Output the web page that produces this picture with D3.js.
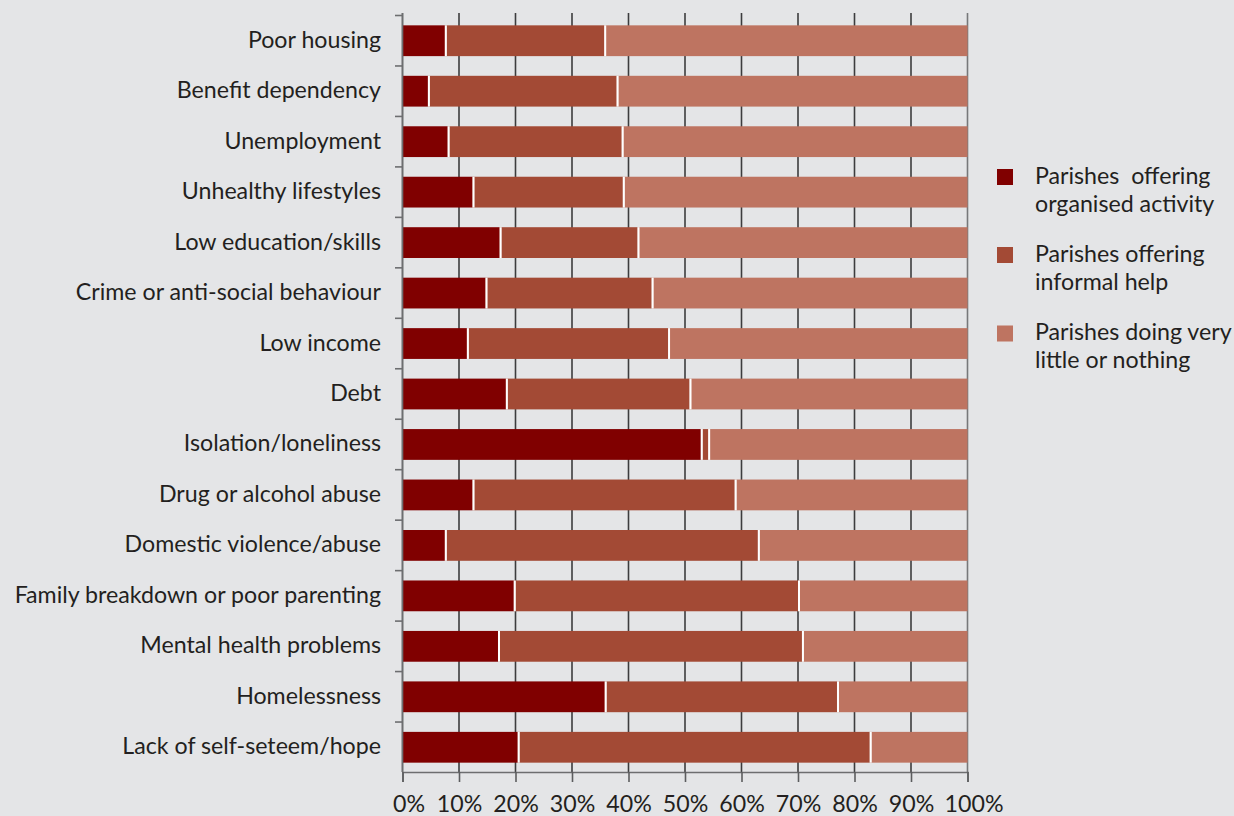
<!DOCTYPE html>
<html>
<head>
<meta charset="utf-8">
<script src="https://cdn.jsdelivr.net/npm/d3@7"></script>
<style>
  html, body { margin: 0; padding: 0; background: #e4e5e7; }
  svg { display: block; }
</style>
</head>
<body>
<svg id="chart" width="1234" height="816"></svg>
<script>
// Problems in the parish area and how parishes respond (percent of parishes)
const categories = [
  "Poor housing",
  "Benefit dependency",
  "Unemployment",
  "Unhealthy lifestyles",
  "Low education/skills",
  "Crime or anti-social behaviour",
  "Low income",
  "Debt",
  "Isolation/loneliness",
  "Drug or alcohol abuse",
  "Domestic violence/abuse",
  "Family breakdown or poor parenting",
  "Mental health problems",
  "Homelessness",
  "Lack of self-seteem/hope"
];
const organised = [7.5, 4.5, 8.0, 12.4, 17.2, 14.7, 11.4, 18.3, 52.8, 12.4, 7.5, 19.7, 16.9, 35.8, 20.4];
const informal  = [28.2, 33.4, 30.8, 26.6, 24.4, 29.4, 35.6, 32.5, 1.3, 46.4, 55.4, 50.3, 53.8, 41.1, 62.3];
const little    = [64.3, 62.1, 61.2, 61.0, 58.4, 55.9, 53.0, 49.2, 45.9, 41.2, 37.1, 30.0, 29.3, 23.1, 17.3];

const seriesNames = [
  ["Parishes  offering", "organised activity"],
  ["Parishes offering", "informal help"],
  ["Parishes doing very", "little or nothing"]
];
const seriesKeys = ["organised", "informal", "little"];
const colors = ["#800000", "#a34a35", "#be7461"];
const tickValues = [0, 10, 20, 30, 40, 50, 60, 70, 80, 90, 100];

const rows = categories.map((c, i) => ({
  category: c, organised: organised[i], informal: informal[i], little: little[i]
}));

const svg = d3.select("#chart");
const font = "Lato, 'Open Sans', sans-serif";
const fontSize = 23.2;
const textColor = "#231f20";

const x = d3.scaleLinear().domain([0, 100]).range([402.5, 967.5]);
const y = d3.scaleBand().domain(categories).range([15.5, 772.5])
  .paddingInner(0.39).paddingOuter(0.195);

// vertical grid lines behind the bars
svg.append("g").selectAll("line").data(tickValues).join("line")
  .attr("x1", d => x(d)).attr("x2", d => x(d))
  .attr("y1", 13).attr("y2", 772)
  .attr("stroke", d => d === 0 ? "#6d6e70" : (d === 100 ? "#77787a" : "#3c3c3e"))
  .attr("stroke-width", 1.6);

// stacked bars
const stack = d3.stack().keys(seriesKeys)(rows);
const layers = svg.append("g").selectAll("g").data(stack).join("g")
  .attr("fill", (d, i) => colors[i]);
layers.selectAll("rect").data(d => d).join("rect")
  .attr("x", d => x(d[0]))
  .attr("width", d => Math.max(0, x(d[1]) - x(d[0])))
  .attr("y", d => y(d.data.category))
  .attr("height", y.bandwidth());

// white separators between segments
stack.slice(0, 2).forEach(layer => {
  svg.append("g").selectAll("line").data(layer).join("line")
    .attr("x1", d => x(d[1]) + 1).attr("x2", d => x(d[1]) + 1)
    .attr("y1", d => y(d.data.category))
    .attr("y2", d => y(d.data.category) + y.bandwidth())
    .attr("stroke", "#ffffff").attr("stroke-width", 2);
});

// left axis with tick marks between categories
const bounds = d3.range(categories.length + 1).map(i => y.range()[0] + i * y.step());
const left = svg.append("g");
left.append("line").attr("x1", 402.5).attr("x2", 402.5).attr("y1", 13).attr("y2", 772)
  .attr("stroke", "#6d6e70").attr("stroke-width", 1.6);
left.selectAll(".tk").data(bounds.slice(0, -1)).join("line").attr("class", "tk")
  .attr("x1", 395).attr("x2", 402.5).attr("y1", d => d).attr("y2", d => d)
  .attr("stroke", "#6d6e70").attr("stroke-width", 1.6);

// category labels
svg.append("g").selectAll("text").data(categories).join("text")
  .attr("x", 381)
  .attr("y", d => y(d) + y.bandwidth() / 2 + 7)
  .attr("text-anchor", "end")
  .attr("font-family", font).attr("font-size", fontSize)
  .attr("fill", textColor)
  .text(d => d);

// bottom axis
const xAxis = d3.axisBottom(x).tickValues(tickValues).tickFormat(d => d + "%")
  .tickSize(10).tickPadding(12);
const gx = svg.append("g").attr("transform", "translate(0,772)").call(xAxis);
gx.select(".domain").attr("stroke", "#6d6e70").attr("stroke-width", 1.6);
gx.selectAll(".tick line").attr("stroke", "#5c5d5f").attr("stroke-width", 1.6);
gx.selectAll(".tick text")
  .attr("y", 40).attr("dy", null)
  .attr("dx", d => (d === 0 || d === 100) ? 6 : 0)
  .attr("font-family", font).attr("font-size", fontSize)
  .attr("fill", textColor);

// legend
const legendTop = [169, 247, 325.5];
const legend = svg.append("g").selectAll("g").data(seriesNames).join("g")
  .attr("transform", (d, i) => `translate(997,${legendTop[i]})`);
legend.append("rect").attr("width", 16).attr("height", 16)
  .attr("fill", (d, i) => colors[i]);
legend.append("text")
  .attr("font-family", font).attr("font-size", fontSize).attr("fill", textColor)
  .attr("xml:space", "preserve")
  .selectAll("tspan").data(d => d).join("tspan")
  .attr("x", 38).attr("y", (d, i) => 14.5 + i * 28)
  .text(d => d);
</script>
</body>
</html>
